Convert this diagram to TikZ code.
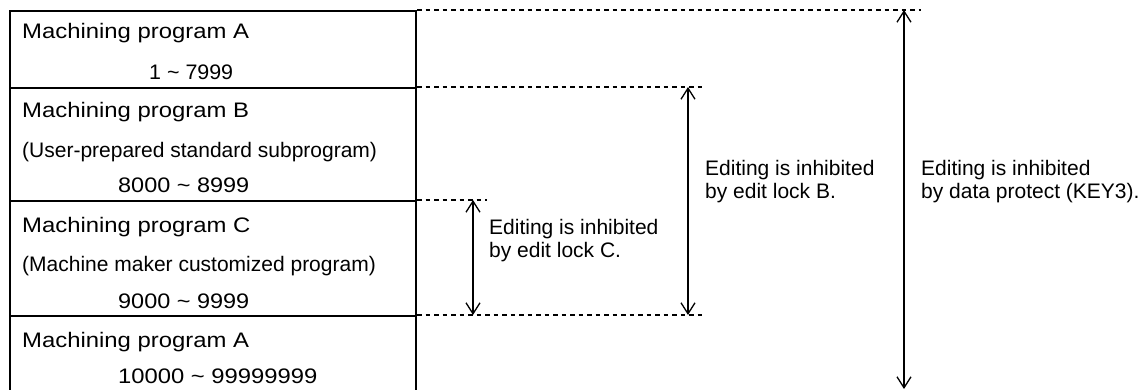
\documentclass[tikz,border=0pt]{standalone}
\usepackage{fontspec}
\usepackage{graphicx}
\setmainfont{Liberation Sans}
\usetikzlibrary{arrows.meta}
\newcommand\hstretch[2]{\scalebox{#1}[1]{#2}}
\begin{document}
\begin{tikzpicture}[x=1pt,y=-1pt,
  sec/.style={draw, line width=2.2pt, minimum width=406pt, inner sep=0pt, anchor=north west},
  txt/.style={anchor=base west, inner sep=0pt, font=\fontsize{21}{22.5}\selectfont},
  note/.style={anchor=base west, inner sep=0pt, align=left, font=\fontsize{21}{22.5}\selectfont},
  guide/.style={line width=1.2pt, dash pattern=on 4.5pt off 4pt},
  dim/.style={line width=1.3pt, {Straight Barb[length=11pt,width=14pt]}-{Straight Barb[length=11pt,width=14pt]}},
  ]
\clip (0,0) rectangle (1145,390);
\fill[white] (0,0) rectangle (1145,390);
% program sections
\node[sec, minimum height=77pt]  (sa) at (9,10)  {};
\node[sec, minimum height=113pt] (sb) at (9,87)  {};
\node[sec, minimum height=115pt] (sc) at (9,200) {};
\node[sec, minimum height=90pt]  (sd) at (9,315) {};
% section texts
\node[txt] (ta1) at (22,39)  {\hstretch{1.137}{Machining program A}};
\node[txt] (ta2) at (149,80) {\hstretch{1.02}{1 \~{} 7999}};
\node[txt] (tb1) at (22,118) {\hstretch{1.137}{Machining program B}};
\node[txt] (tb2) at (22,158) {(User-prepared standard subprogram)};
\node[txt] (tb3) at (118,193) {\hstretch{1.117}{8000 \~{} 8999}};
\node[txt] (tc1) at (22,232) {\hstretch{1.137}{Machining program C}};
\node[txt] (tc2) at (22,271) {(Machine maker customized program)};
\node[txt] (tc3) at (118,308) {\hstretch{1.117}{9000 \~{} 9999}};
\node[txt] (td1) at (22,347) {\hstretch{1.137}{Machining program A}};
\node[txt] (td2) at (118,383) {\hstretch{1.133}{10000 \~{} 99999999}};
% guide line end points
\coordinate (g0e) at (921,10);
\coordinate (g1e) at (703,87);
\coordinate (g2e) at (487,200);
\coordinate (g3e) at (703,315);
\draw[guide] (sa.north east) -- (g0e);
\draw[guide] (sb.north east) -- (g1e);
\draw[guide] (sc.north east) -- (g2e);
\draw[guide] (sd.north east) -- (g3e);
% arrow end points
\coordinate (cT) at (473,200);
\coordinate (cB) at (473,315);
\coordinate (bT) at (688,87);
\coordinate (bB) at (688,315);
\coordinate (kT) at (904,10);
\coordinate (kB) at (904,389);
\draw[dim] (cT) -- (cB);
\draw[dim] (bT) -- (bB);
\draw[dim] (kT) -- (kB);
% notes
\node[note] (nc) at (489,257) {Editing is inhibited\\by edit lock C.};
\node[note] (nb) at (705,198) {Editing is inhibited\\by edit lock B.};
\node[note] (nk) at (921,198) {Editing is inhibited\\by data protect (KEY3).};
\end{tikzpicture}
\end{document}
